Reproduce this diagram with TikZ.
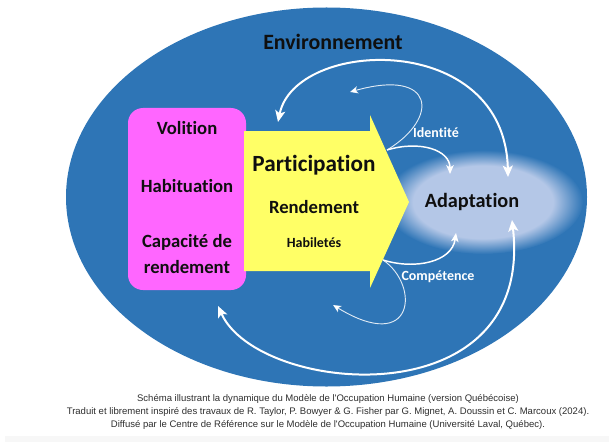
\documentclass[tikz,border=0pt]{standalone}
\usepackage{fontspec}
\setmainfont{Carlito}[Ligatures=NoCommon]
\newfontfamily\capfont{Liberation Sans}
\usetikzlibrary{arrows.meta}
\definecolor{envblue}{RGB}{46,117,182}
\definecolor{adapt}{RGB}{180,199,231}
\definecolor{pinkbox}{RGB}{255,102,255}
\definecolor{yel}{RGB}{255,255,102}
\definecolor{captxt}{RGB}{45,45,45}
\definecolor{nearblack}{RGB}{15,15,15}
\pgfdeclareradialshading{glow}{\pgfpoint{0bp}{0bp}}{color(0bp)=(adapt); color(17.5bp)=(adapt); color(25bp)=(envblue); color(50bp)=(envblue)}
\begin{document}
\begin{tikzpicture}[x=0.75pt,y=-0.75pt,
  lbl/.style={inner sep=0pt, text=nearblack},
  fbig/.style={font=\fontsize{14}{16}\selectfont\bfseries},
  whitelbl/.style={inner sep=0pt, text=white, font=\fontsize{10.5}{12}\selectfont\bfseries},
  caption/.style={inner sep=0pt, text=captxt, font=\capfont\fontsize{7.15}{8}\selectfont},
  bigarc/.style={draw=white, line width=1.5pt, {Stealth[length=8.5pt,width=7.5pt,inset=2pt]}-{Stealth[length=8.5pt,width=7.5pt,inset=2pt]}},
  midarc/.style={draw=white, line width=1.1pt, -{Stealth[length=6.5pt,width=5.5pt,inset=1.5pt]}},
  thinarc/.style={draw=white, draw opacity=0.85, line width=0.7pt, -{Stealth[length=6pt,width=5.5pt,inset=1.5pt]}}
]
\useasboundingbox (0,0) rectangle (609,442);
\fill[black!3] (5,436) rectangle (609,442);
% environment
\fill[envblue] (326.5,197) ellipse [x radius=195.375pt, y radius=142.125pt];
\node[lbl, font=\fontsize{16.4}{18}\selectfont\bfseries] (env) at (333,42) {Environnement};
% adaptation glow
\shade[shading=glow] (483,202) ellipse [x radius=75pt, y radius=39pt];
\node[lbl, font=\fontsize{15.2}{17}\selectfont\bfseries] (adapt) at (472,202) {Adaptation};
% person box
\fill[pinkbox, rounded corners=11.25pt] (128,108) rectangle (246,290);
% participation arrow
\fill[yel] (244,131) -- (370,131) -- (370,115) -- (409,202) -- (370,288) -- (370,271) -- (244,271) -- cycle;
\node[lbl, fbig] (vol) at (187,128) {Volition};
\node[lbl, fbig] (hab) at (187,186) {Habituation};
\node[lbl, fbig] (cap1) at (187,242) {Capacité de};
\node[lbl, fbig] (cap2) at (187,267) {rendement};
\node[lbl, font=\fontsize{17.4}{19}\selectfont\bfseries] (part) at (314,165) {Participation};
\node[lbl, fbig] (rend) at (314,207) {Rendement};
\node[lbl, font=\fontsize{10.5}{12}\selectfont\bfseries] (habil) at (314,243) {Habiletés};
\node[whitelbl] (ident) at (436,133) {Identité};
\node[whitelbl] (comp) at (438,277) {Compétence};
% connector end points
\coordinate (tA) at (278,122);
\coordinate (tB) at (508,177);
\coordinate (bA) at (218,306);
\coordinate (bB) at (512,220);
\coordinate (idS) at (387,150);
\coordinate (idL) at (350,92);
\coordinate (idR) at (450,174);
\coordinate (coS) at (383,260);
\coordinate (coL) at (333,305);
\coordinate (coR) at (456,233);
% connectors
\draw[bigarc] (tA) .. controls (295,38) and (505,30) .. (tB);
\draw[bigarc] (bA) .. controls (258,395) and (535,420) .. (bB);
\draw[thinarc] (idS) .. controls (440,118) and (435,68) .. (idL);
\draw[midarc] (idS) .. controls (420,140) and (450,150) .. (idR);
\draw[midarc] (coS) .. controls (415,270) and (452,262) .. (coR);
\draw[thinarc] (coS) .. controls (420,285) and (415,355) .. (coL);
% caption
\node[caption] (c1) at (328,399) {Schéma illustrant la dynamique du Modèle de l'Occupation Humaine (version Québécoise)};
\node[caption] (c2) at (328,412) {Traduit et librement inspiré des travaux de R. Taylor, P. Bowyer \& G. Fisher par G. Mignet, A. Doussin et C. Marcoux (2024).};
\node[caption] (c3) at (328,425) {Diffusé par le Centre de Référence sur le Modèle de l'Occupation Humaine (Université Laval, Québec).};
\end{tikzpicture}
\end{document}
